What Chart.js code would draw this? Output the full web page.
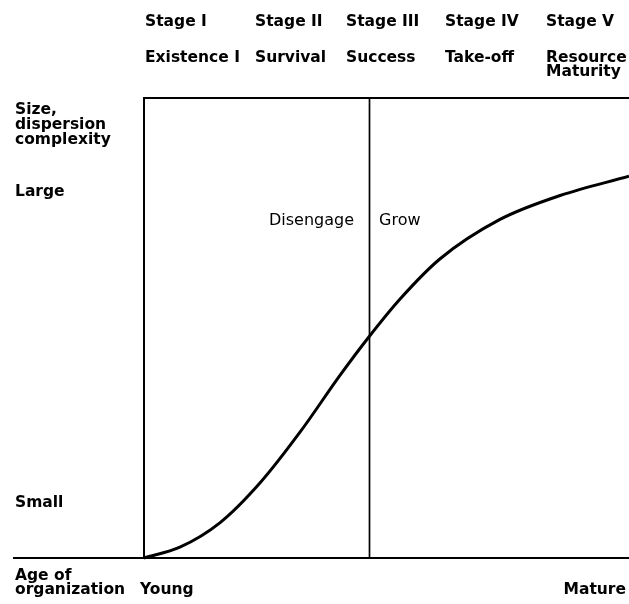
<!DOCTYPE html>
<html><head><meta charset="utf-8">
<script src="https://cdn.jsdelivr.net/npm/chart.js@4"></script>
<style>html,body{margin:0;padding:0;background:#fff;} #wrap{width:629px;height:604px;position:relative;}</style>
</head><body><div id="wrap"><canvas id="c"></canvas></div>
<script>
// ---- data ----
const stageNames = ['Stage I', 'Stage II', 'Stage III', 'Stage IV', 'Stage V'];
const stageTitles = ['Existence I', 'Survival', 'Success', 'Take-off', 'Resource\nMaturity'];
const ageValues  = [0, 7.4, 15.7, 23.9, 32.2, 40.4, 46.4, 52.8, 61.0, 73.4, 85.8, 100];
const sizeValues = [0, 2.35, 7.7, 16.3, 27.4, 39.7, 48.1, 56.3, 65.0, 73.6, 78.8, 83.0];
const dividerAge = 46.4;
const yTickLabels = ['Small', 'Large'];
const yTickValues = [12.5, 80];
const xTickLabels = ['Young', 'Mature'];
const regionLabels = ['Disengage', 'Grow'];
const yAxisTitle = ['Size,', 'dispersion', 'complexity'];
const xAxisTitle = ['Age of', 'organization'];

// ---- layout (pixels) ----
const L = {
  stageX: [145, 255, 346, 445, 546],
  stageY: 26, titleY: 62, titleLine: 13.5,
  leftX: 15,
  yTitleY: [114, 129, 144],
  xTitleY: [580, 594],
  axisLeft: 13
};
const boldFont = 'bold 15.5px "DejaVu Sans"';
const regFont = '16px "DejaVu Sans"';

const points = ageValues.map((a, i) => ({x: a, y: sizeValues[i]}));

const decor = {
  id: 'decor',
  beforeDatasetsDraw(chart) {
    const {ctx, chartArea: ca, scales: {x, y}} = chart;
    ctx.save();
    ctx.strokeStyle = '#000';
    ctx.lineWidth = 2;
    ctx.beginPath();
    ctx.moveTo(ca.left - 1, ca.top); ctx.lineTo(ca.right, ca.top);
    ctx.moveTo(ca.left, ca.top); ctx.lineTo(ca.left, ca.bottom);
    ctx.moveTo(L.axisLeft, ca.bottom); ctx.lineTo(ca.right, ca.bottom);
    ctx.stroke();
    const dx = Math.round(x.getPixelForValue(dividerAge)) + 0.5;
    ctx.lineWidth = 1.7;
    ctx.beginPath();
    ctx.moveTo(dx, ca.top); ctx.lineTo(dx, ca.bottom);
    ctx.stroke();
    ctx.restore();
  },
  afterDraw(chart) {
    const {ctx, chartArea: ca, scales: {x, y}} = chart;
    ctx.save();
    ctx.fillStyle = '#000';
    ctx.textBaseline = 'alphabetic';
    ctx.textAlign = 'left';
    ctx.font = boldFont;
    stageNames.forEach((s, i) => ctx.fillText(s, L.stageX[i], L.stageY));
    stageTitles.forEach((s, i) => {
      s.split('\n').forEach((ln, j) => ctx.fillText(ln, L.stageX[i], L.titleY + j * L.titleLine));
    });
    yAxisTitle.forEach((s, i) => ctx.fillText(s, L.leftX, L.yTitleY[i]));
    xAxisTitle.forEach((s, i) => ctx.fillText(s, L.leftX, L.xTitleY[i]));
    yTickLabels.forEach((s, i) => ctx.fillText(s, L.leftX, y.getPixelForValue(yTickValues[i]) + 6));
    ctx.fillText(xTickLabels[0], ca.left - 4, L.xTitleY[1]);
    ctx.textAlign = 'right';
    ctx.fillText(xTickLabels[1], ca.right - 3, L.xTitleY[1]);
    ctx.font = regFont;
    const dx = x.getPixelForValue(dividerAge);
    const ry = y.getPixelForValue(72.5);
    ctx.textAlign = 'right';
    ctx.fillText(regionLabels[0], dx - 15, ry);
    ctx.textAlign = 'left';
    ctx.fillText(regionLabels[1], dx + 10, ry);
    ctx.restore();
  }
};

new Chart(document.getElementById('c'), {
  type: 'line',
  data: {
    datasets: [{
      data: points,
      borderColor: '#000',
      borderWidth: 3,
      pointRadius: 0,
      cubicInterpolationMode: 'monotone',
      fill: false,
      clip: false
    }]
  },
  options: {
    responsive: true,
    maintainAspectRatio: false,
    animation: false,
    layout: {padding: {left: 144, top: 98, right: 0, bottom: 46}},
    plugins: {legend: {display: false}, tooltip: {enabled: false}},
    scales: {
      x: {type: 'linear', min: 0, max: 100, display: false},
      y: {type: 'linear', min: 0, max: 100, display: false}
    }
  },
  plugins: [decor]
});
</script>
</body></html>
